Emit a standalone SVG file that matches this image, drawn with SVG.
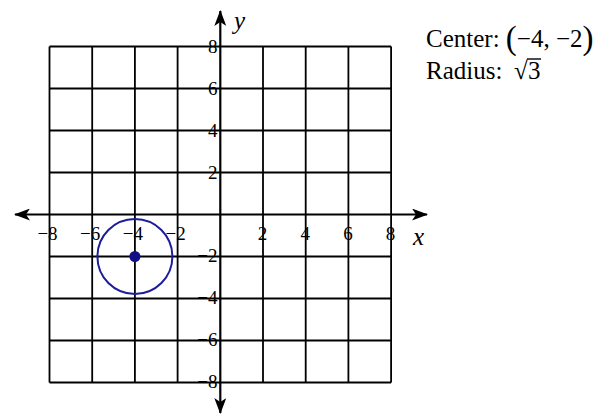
<svg xmlns="http://www.w3.org/2000/svg" width="593" height="414" viewBox="0 0 593 414">
<style>
.grid{stroke:#000;stroke-width:1.8;fill:none}
.axis{stroke:#000;stroke-width:2.2;fill:none}
.tick{font-family:"Liberation Serif","Times New Roman",serif;font-size:19px;fill:#000}
.lab{font-family:"Liberation Serif","Times New Roman",serif;font-size:25px;fill:#000;font-style:italic}
.info{font-family:"Liberation Serif","Times New Roman",serif;font-size:25px;fill:#000}
</style>
<defs>
<marker id="arr" viewBox="0 0 16 12" refX="15" refY="6" markerWidth="16" markerHeight="12" markerUnits="userSpaceOnUse" orient="auto">
<path d="M0,0 L16,6 L0,12 L4,6 Z" fill="#000"/>
</marker>
</defs>
<rect width="593" height="414" fill="#fff"/>
<g id="grid" class="grid">
<path d="M49.5,46.5V382.5M92.2,46.5V382.5M134.9,46.5V382.5M177.6,46.5V382.5M263,46.5V382.5M305.7,46.5V382.5M348.4,46.5V382.5M391.1,46.5V382.5"/>
<path d="M49.5,46.5H391.1M49.5,88.5H391.1M49.5,130.5H391.1M49.5,172.5H391.1M49.5,256.5H391.1M49.5,298.5H391.1M49.5,340.5H391.1M49.5,382.5H391.1"/>
</g>
<g id="connectors" class="axis">
<line x1="220.3" y1="214.5" x2="427" y2="214.5" marker-end="url(#arr)"/>
<line x1="220.3" y1="214.5" x2="15" y2="214.5" marker-end="url(#arr)"/>
<line x1="220.3" y1="214.5" x2="220.3" y2="11" marker-end="url(#arr)"/>
<line x1="220.3" y1="214.5" x2="220.3" y2="413" marker-end="url(#arr)"/>
</g>
<g id="x-ticks" class="tick" text-anchor="middle">
<text x="47.5" y="240">−8</text>
<text x="90.2" y="240">−6</text>
<text x="132.9" y="240">−4</text>
<text x="175.6" y="240">−2</text>
<text x="262.5" y="240">2</text>
<text x="305.2" y="240">4</text>
<text x="347.9" y="240">6</text>
<text x="390.6" y="240">8</text>
</g>
<g id="y-ticks" class="tick" text-anchor="end">
<text x="217.5" y="53">8</text>
<text x="217.5" y="95">6</text>
<text x="217.5" y="137">4</text>
<text x="217.5" y="179">2</text>
<text x="217.5" y="262">−2</text>
<text x="217.5" y="304">−4</text>
<text x="217.5" y="346">−6</text>
<text x="217.5" y="388">−8</text>
</g>
<g id="axis-labels" class="lab">
<text x="234" y="29">y</text>
<text x="413" y="245">x</text>
</g>
<g id="circle">
<circle cx="134.9" cy="256.5" r="37.5" fill="none" stroke="#1c1c9c" stroke-width="2"/>
<circle cx="134.9" cy="256.5" r="5.5" fill="#10108a"/>
</g>
<g id="info" class="info">
<text x="426" y="47">Center: <tspan font-size="33" dy="2">(</tspan><tspan dy="-2">−4, −2</tspan><tspan font-size="33" dy="2">)</tspan></text>
<text x="426" y="79">Radius:<tspan x="514">√</tspan><tspan x="528">3</tspan></text>
<line x1="527" y1="59" x2="541" y2="59" stroke="#000" stroke-width="1.4"/>
</g>
</svg>
